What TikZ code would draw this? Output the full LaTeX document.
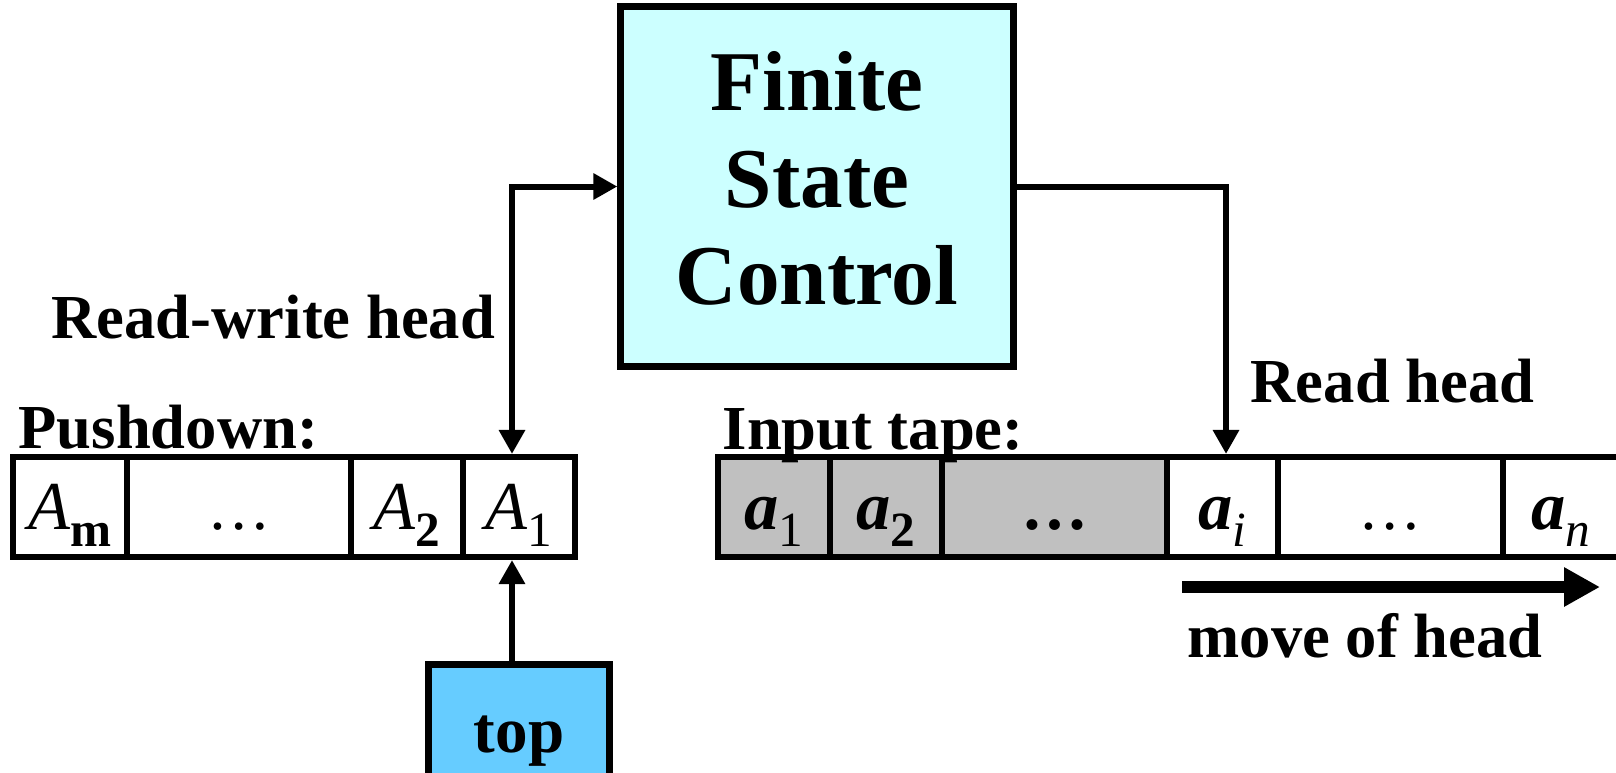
\documentclass[tikz,border=0pt]{standalone}
\usepackage{fontspec}
\setmainfont{Liberation Serif}
\usetikzlibrary{arrows.meta}
\definecolor{fsccyan}{HTML}{CCFFFF}
\definecolor{topblue}{HTML}{66CCFF}
\definecolor{tapegrey}{HTML}{C0C0C0}
\newcommand{\cellsym}[2]{{\fontsize{19.5}{22}\selectfont#1}\raisebox{-0.17cm}{\fontsize{14}{16}\selectfont#2}}
\begin{document}
\begin{tikzpicture}[x=0.01cm, y=-0.01cm,
        control/.style={draw=black, line width=0.07cm, fill=fsccyan,
          minimum width=3.92cm, minimum height=3.59cm, inner sep=0pt,
          align=center, font=\fontsize{24.2}{27.6}\selectfont\bfseries},
        cell/.style={draw=black, line width=0.06cm, minimum height=1cm,
          inner sep=0pt, text height=16pt, text depth=3pt},
        used/.style={cell, fill=tapegrey},
        topbox/.style={draw=black, line width=0.07cm, fill=topblue,
          minimum width=1.8cm, minimum height=1.3cm, inner sep=0pt,
          text height=16pt, text depth=3pt, font=\fontsize{18.5}{20}\selectfont\bfseries},
        headtext/.style={inner sep=0pt, anchor=base west,
          font=\fontsize{17.8}{20}\selectfont\bfseries},
        pointer/.style={-{Triangle[length=0.24cm,width=0.25cm]}, line width=0.06cm},
        twoway/.style={{Triangle[length=0.24cm,width=0.25cm]}-{Triangle[length=0.24cm,width=0.25cm]}, line width=0.06cm},
        bigpointer/.style={-{Triangle[length=0.36cm,width=0.37cm]}, line width=0.12cm}
      ]
      \useasboundingbox (0,0) rectangle (1616,772);

      \node[control] (fsc) at (817,186.5) {Finite\\State\\Control\rule[-0.17cm]{0pt}{0.17cm}};

      % pushdown
      \node[cell, minimum width=1.14cm] (Am) at (70,507) {\cellsym{\textit{A}}{\textbf{m}}};
      \node[cell, minimum width=2.24cm] (pdots) at (239,507) {\fontsize{18}{20}\selectfont …};
      \node[cell, minimum width=1.12cm] (A2) at (407,507) {\cellsym{\textit{A}}{\textbf{2}}};
      \node[cell, minimum width=1.12cm] (A1) at (519,507) {\cellsym{\textit{A}}{1}};

      % input tape
      \node[used, minimum width=1.12cm] (a1) at (774,507) {\cellsym{\textbf{\textit{a}}}{1}};
      \node[used, minimum width=1.12cm] (a2) at (886,507) {\cellsym{\textbf{\textit{a}}}{\textbf{2}}};
      \node[used, minimum width=2.25cm] (gdots) at (1054.5,507) {\fontsize{19}{20}\selectfont\bfseries …};
      \node[cell, minimum width=1.11cm] (ai) at (1222.5,507) {\cellsym{\textbf{\textit{a}}}{\textit{i}}};
      \node[cell, minimum width=2.25cm] (wdots) at (1390.5,507) {\fontsize{18}{20}\selectfont …};
      \node[cell, minimum width=1.16cm] (an) at (1561,507) {\cellsym{\textbf{\textit{a}}}{\textit{n}}};

      \node[topbox] (top) at (519,730) {top};

      \node[headtext] (rwlabel) at (51,338) {Read-write head};
      \node[headtext] (pdlabel) at (18,448) {Pushdown:};
      \node[headtext] (inlabel) at (722,449) {Input tape:};
      \node[headtext] (rlabel) at (1250,402) {Read head};
      \node[headtext] (mvlabel) at (1187,657) {move of head};

      \coordinate (mvstart) at (1182,587);
      \coordinate (mvend) at (1600,587);

      \draw[twoway] ([xshift=-0.07cm]A1.north) |- (fsc.west);
      \draw[pointer] (fsc.east) -| ([xshift=0.035cm]ai.north);
      \draw[pointer] ([xshift=-0.07cm]top.north) -- ([xshift=-0.07cm]A1.south);
      \draw[bigpointer] (mvstart) -- (mvend);
    \end{tikzpicture}
\end{document}
